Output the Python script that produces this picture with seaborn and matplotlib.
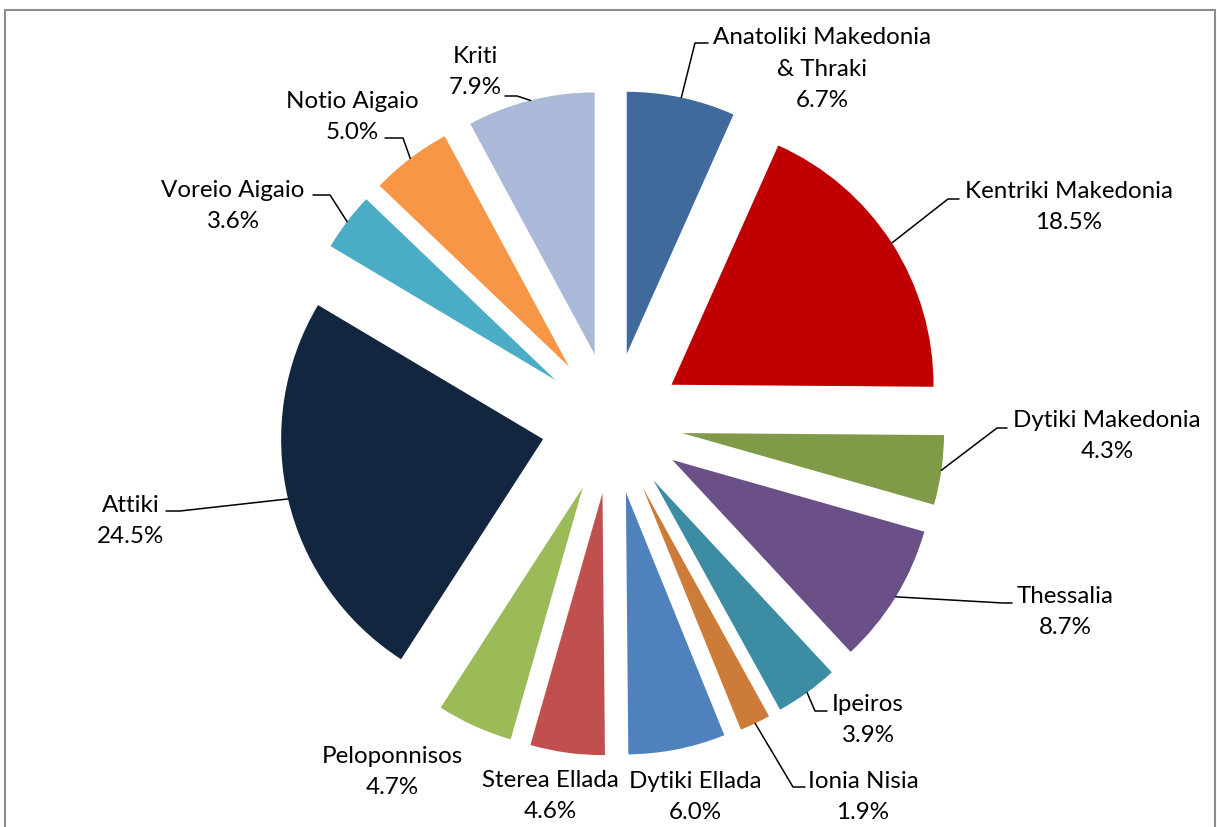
import matplotlib
matplotlib.use("Agg")
import matplotlib.pyplot as plt
import numpy as np
import seaborn as sns
from matplotlib.patches import Rectangle

# data
regions = [
    "Anatoliki Makedonia\n& Thraki",
    "Kentriki Makedonia",
    "Dytiki Makedonia",
    "Thessalia",
    "Ipeiros",
    "Ionia Nisia",
    "Dytiki Ellada",
    "Sterea Ellada",
    "Peloponnisos",
    "Attiki",
    "Voreio Aigaio",
    "Notio Aigaio",
    "Kriti",
]
shares = [6.7, 18.5, 4.3, 8.7, 3.9, 1.9, 6.0, 4.6, 4.7, 24.5, 3.6, 5.0, 7.9]
colors = [
    "#416A9C", "#C00000", "#7F9B48", "#6A5087", "#3C8DA3", "#CD7B38", "#4F81BD",
    "#C0504D", "#9BBB59", "#12263F", "#4BACC6", "#F79646", "#A9B9D7",
]

# layout (pixels in the 1217x827 canvas)
W, H = 1217, 827
CX, CY, R = 612, 423, 262
label_xy = [
    (822, 69), (1069, 207), (1107, 436), (1065, 612), (868, 720), (863, 797),
    (695, 797), (550, 796), (392, 772), (131, 521), (233, 206), (352, 117), (475, 72),
]
leader_bends = [
    ((695, 43), (708, 43)),
    ((948, 199), (959, 199)),
    ((997, 428), (1007, 428)),
    ((1003, 603), (1012, 603)),
    ((815, 711), (827, 711)),
    ((793, 787), (805, 787)),
    None,
    None,
    None,
    ((180, 511), (166, 511)),
    ((330, 195), (313, 195)),
    ((403, 138), (385, 138)),
    ((517, 96), (505, 96)),
]


def px(x, y):
    return (x - CX) / R, (CY - y) / R


sns.set_theme(style="white")
plt.rcParams["font.family"] = ["Lato", "DejaVu Sans"]

fig = plt.figure(figsize=(W / 100, H / 100), dpi=100)
ax = fig.add_axes([0, 0, 1, 1])
wedges, _ = ax.pie(
    shares,
    colors=colors,
    startangle=90,
    counterclock=False,
    explode=[0.27] * len(shares),
    radius=1,
    wedgeprops=dict(linewidth=0),
)
ax.set_xlim(-CX / R, (W - CX) / R)
ax.set_ylim((CY - H) / R, CY / R)
ax.set_aspect("equal")
ax.axis("off")

for wedge, name, share, pos, bend in zip(wedges, regions, shares, label_xy, leader_bends):
    ax.text(*px(*pos), f"{name}\n{share:.1f}%", ha="center", va="center",
            multialignment="center", fontsize=17.4, color="black", linespacing=1.6)
    if bend is None:
        continue
    mid = np.deg2rad((wedge.theta1 + wedge.theta2) / 2)
    cx, cy = wedge.center
    x0, y0 = cx + wedge.r * np.cos(mid), cy + wedge.r * np.sin(mid)
    (bx, by), (ex, ey) = px(*bend[0]), px(*bend[1])
    ax.plot([x0, bx, ex], [y0, by, ey], color="black", linewidth=1.1)

fig.patches.append(Rectangle((5 / W, -0.02), (1215 - 5) / W, 1.02 - 10 / H,
                             transform=fig.transFigure, fill=False,
                             edgecolor="#8C8C8C", linewidth=1.5))
fig.savefig("out.png", dpi=100)
plt.close(fig)
